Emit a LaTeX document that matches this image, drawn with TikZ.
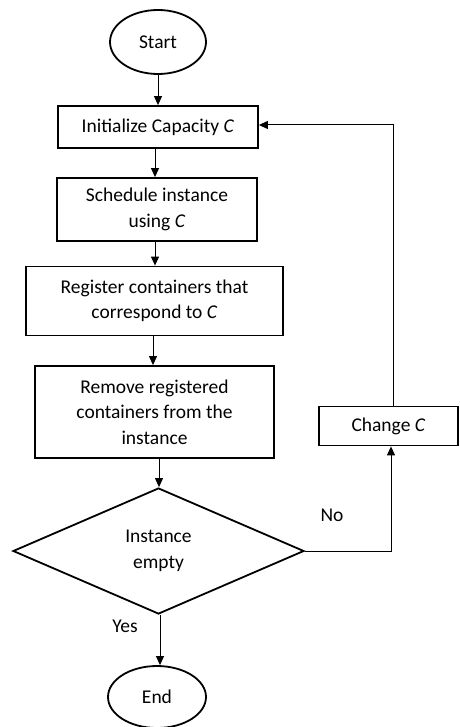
\documentclass[tikz,border=0pt]{standalone}
\usepackage{fontspec}
\setmainfont{Carlito}
\usetikzlibrary{shapes.geometric,arrows.meta}
\begin{document}
\begin{tikzpicture}[x=1pt,y=-1pt,
  font=\fontsize{19.5}{25.5}\selectfont,
  box/.style={draw,line width=1.8pt,align=center,inner sep=0pt},
  term/.style={box,ellipse},
  proc/.style={box,rectangle},
  decide/.style={box,diamond},
  conn/.style={line width=1pt,-{Triangle[length=9pt,width=8pt]}},
  lbl/.style={inner sep=0pt}]
\useasboundingbox (0,0) rectangle (459,727);
\node[term,minimum width=96pt,minimum height=64pt] (start) at (158,42) {Start};
\node[proc,minimum width=200pt,minimum height=42pt] (init) at (158,127) {Initialize Capacity \textit{C}};
\node[proc,minimum width=200pt,minimum height=63pt] (sched) at (157,209.5) {Schedule instance\\using \textit{C}};
\node[proc,minimum width=257pt,minimum height=69pt] (reg) at (154.5,301) {Register containers that\\correspond to \textit{C}};
\node[proc,minimum width=239pt,minimum height=92pt] (rem) at (154.5,412) {Remove registered\\containers from the\\instance};
\node[decide,minimum width=291pt,minimum height=126pt] (dec) at (158.5,551) {Instance\\empty};
\node[proc,minimum width=139pt,minimum height=39pt] (chg) at (388.5,426) {Change \textit{C}};
\node[term,minimum width=98pt,minimum height=62pt] (end) at (157,697) {End};
\node[lbl] (no) at (332,515) {No};
\node[lbl] (yes) at (125,626) {Yes};
\draw[conn] (start.south) -- (start.south |- init.north);
\draw[conn] ([xshift=-3pt]init.south) -- ([xshift=-3pt]init.south |- sched.north);
\draw[conn] ([xshift=-2pt]sched.south) -- ([xshift=-2pt]sched.south |- reg.north);
\draw[conn] ([xshift=-1.5pt]reg.south) -- ([xshift=-1.5pt]reg.south |- rem.north);
\draw[conn] ([xshift=4.5pt]rem.south) -- ([xshift=4.5pt]rem.south |- dec.north);
\draw[conn] ([xshift=1.5pt]dec.south) -- ([xshift=1.5pt]dec.south |- end.north);
\draw[conn] (dec.east) -| ([xshift=2.5pt]chg.south);
\draw[conn] ([xshift=4.5pt]chg.north) |- ([yshift=2pt]init.east);
\end{tikzpicture}
\end{document}
